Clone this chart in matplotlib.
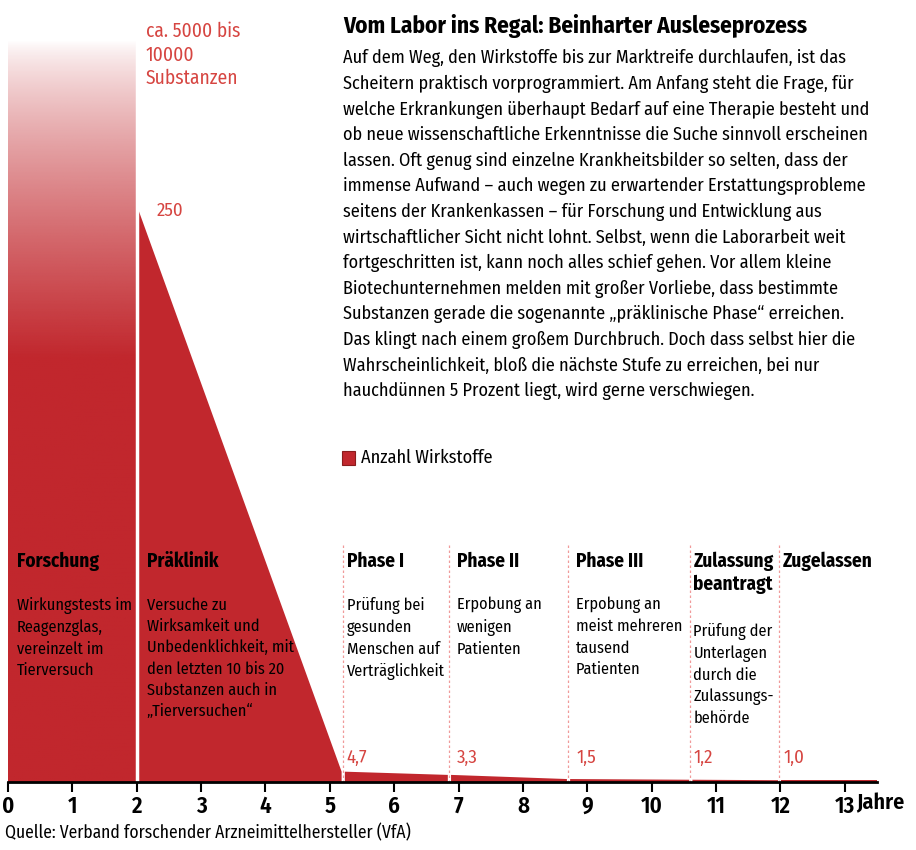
import numpy as np
import matplotlib.pyplot as plt
from matplotlib.colors import to_rgb
from matplotlib.transforms import blended_transform_factory, offset_copy

plt.rcParams['font.family'] = ['Fira Sans Condensed', 'IBM Plex Sans Condensed', 'DejaVu Sans']

# Data
phases = ["Forschung", "Präklinik", "Phase I", "Phase II", "Phase III",
          "Zulassung\nbeantragt", "Zugelassen"]
descriptions = [
    "Wirkungstests im\nReagenzglas,\nvereinzelt im\nTierversuch",
    "Versuche zu\nWirksamkeit und\nUnbedenklichkeit, mit\nden letzten 10 bis 20\nSubstanzen auch in\n„Tierversuchen“",
    "Prüfung bei\ngesunden\nMenschen auf\nVerträglichkeit",
    "Erpobung an\nwenigen\nPatienten",
    "Erpobung an\nmeist mehreren\ntausend\nPatienten",
    "Prüfung der\nUnterlagen\ndurch die\nZulassungs-\nbehörde",
    "",
]
phase_start = [0, 2, 5.2, 6.85, 8.7, 10.6, 11.98]   # Jahre
time_end = 13.5
counts = [10000, 250, 4.7, 3.3, 1.5, 1.2, 1.0]     # Anzahl Wirkstoffe
count_labels = ["ca. 5000 bis\n10000\nSubstanzen", "250", "4,7", "3,3", "1,5", "1,2", "1,0"]
years = list(range(0, 14))

title = "Vom Labor ins Regal: Beinharter Ausleseprozess"
body = ("Auf dem Weg, den Wirkstoffe bis zur Marktreife durchlaufen, ist das\n"
        "Scheitern praktisch vorprogrammiert. Am Anfang steht die Frage, für\n"
        "welche Erkrankungen überhaupt Bedarf auf eine Therapie besteht und\n"
        "ob neue wissenschaftliche Erkenntnisse die Suche sinnvoll erscheinen\n"
        "lassen. Oft genug sind einzelne Krankheitsbilder so selten, dass der\n"
        "immense Aufwand – auch wegen zu erwartender Erstattungsprobleme\n"
        "seitens der Krankenkassen – für Forschung und Entwicklung aus\n"
        "wirtschaftlicher Sicht nicht lohnt. Selbst, wenn die Laborarbeit weit\n"
        "fortgeschritten ist, kann noch alles schief gehen. Vor allem kleine\n"
        "Biotechunternehmen melden mit großer Vorliebe, dass bestimmte\n"
        "Substanzen gerade die sogenannte „präklinische Phase“ erreichen.\n"
        "Das klingt nach einem großem Durchbruch. Doch dass selbst hier die\n"
        "Wahrscheinlichkeit, bloß die nächste Stufe zu erreichen, bei nur\n"
        "hauchdünnen 5 Prozent liegt, wird gerne verschwiegen.")
source = "Quelle: Verband forschender Arzneimittelhersteller (VfA)"

RED = '#c1272d'
LRED = '#d64541'
W, H = 916, 850
label_pad = [9, 10, 4, 8, 8, 3, 4]   # px from phase start to its labels

fig = plt.figure(figsize=(W / 100, H / 100), dpi=100)
ax = fig.add_axes([8 / W, 1 - 782 / H, (877 - 8) / W, 782 / H])
ymax = 339.5
ax.set_xlim(0, time_end)
ax.set_ylim(0, ymax)

# Forschung: gradient column (values far above the visible range)
n = 400
yy = np.linspace(0, ymax, n)
alpha = np.clip((322 - yy) / (322 - 185), 0, 1) ** 0.75
rgba = np.zeros((n, 1, 4))
rgba[..., :3] = to_rgb(RED)
rgba[:, 0, 3] = alpha
ax.imshow(rgba, extent=(phase_start[0], phase_start[1], 0, min(counts[0], ymax)),
          origin='lower', aspect='auto', interpolation='bilinear', zorder=1)

# other phases: tapering areas
gap = 0.025
bounds = phase_start[1:] + [time_end]
for i in range(1, len(phases)):
    x0 = phase_start[i]
    x1 = bounds[i]
    y0 = counts[i]
    y1 = counts[i + 1] if i + 1 < len(counts) else counts[i]
    xs = [x0 + (gap if i > 1 else 0), x1 - (gap if i + 1 < len(phases) else 0)]
    ax.fill_between(xs, [y0, y1], 0, color=RED, lw=0, zorder=2)

# white separator between Forschung and Präklinik
ax.axvline(phase_start[1], color='white', lw=2.5, zorder=3)

# dotted phase separators
tr = blended_transform_factory(ax.transData, fig.transFigure)
for x in phase_start[2:]:
    ax.plot([x, x], [1 - 545 / H, 1 - 782 / H], transform=tr, color='#f09a9a',
            lw=0.9, ls=(0, (2, 2)), zorder=3, clip_on=False)

# axis
for s in ['top', 'left', 'right']:
    ax.spines[s].set_visible(False)
ax.spines['bottom'].set_linewidth(2)
ax.spines['bottom'].set_zorder(5)
ax.set_yticks([])
ax.set_xticks(years)
ax.set_xticklabels([str(y) for y in years], fontweight='semibold')
ax.tick_params(axis='x', direction='out', length=7, width=1.5, pad=2, labelsize=16.5)
ax.text(13.17, 1 - 803 / H, "Jahre", transform=tr, fontsize=16, fontweight='semibold',
        va='center', ha='left')

# phase titles, descriptions and counts
for i, name in enumerate(phases):
    t = offset_copy(tr, fig=fig, x=label_pad[i], units='dots')
    ax.text(phase_start[i], 1 - 552 / H, name, transform=t, fontsize=13.8,
            fontweight='bold', va='top', ha='left', linespacing=1.2)
    ytop = 597 if "\n" not in name else 623
    ax.text(phase_start[i], 1 - ytop / H, descriptions[i], transform=t, fontsize=11.7,
            va='top', ha='left', linespacing=1.42)
    if i >= 2:
        ax.text(phase_start[i], 1 - 758 / H, count_labels[i], transform=t,
                fontsize=13.5, color=LRED, va='center', ha='left')

fig.text(146 / W, 1 - 22 / H, count_labels[0], fontsize=14, color=LRED,
         va='top', ha='left', linespacing=1.24)
fig.text(157 / W, 1 - 211 / H, count_labels[1], fontsize=13.5, color=LRED,
         va='center', ha='left')

# headline and text
fig.text(343 / W, 1 - 26 / H, title, fontsize=16.7, fontweight='bold', va='center', ha='left')
fig.text(343 / W, 1 - 49 / H, body, fontsize=13.1, va='top', ha='left', linespacing=1.535)

# legend
fig.patches.append(plt.Rectangle((342 / W, 1 - 465 / H), 13 / W, 14 / H,
                                 transform=fig.transFigure, color=RED, ec='#8a1c1c', lw=0.8))
fig.text(361 / W, 1 - 458 / H, "Anzahl Wirkstoffe", fontsize=13.2, va='center', ha='left')

fig.text(5 / W, 1 - 833 / H, source, fontsize=12.6, va='center', ha='left')

fig.savefig('out.png', dpi=100)
